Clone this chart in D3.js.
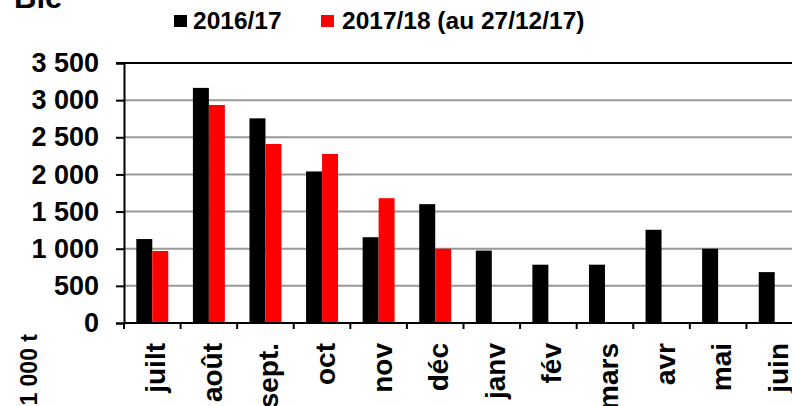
<!DOCTYPE html>
<html>
<head>
<meta charset="utf-8">
<script src="https://cdn.jsdelivr.net/npm/d3@7"></script>
<style>
  html, body { margin: 0; padding: 0; background: #fff; overflow: hidden; }
  svg { display: block; font-family: "Liberation Sans", Arial, sans-serif; font-weight: bold; }
</style>
</head>
<body>
<svg id="chart" width="792" height="406"></svg>
<script>
const months = ['juilt', 'août', 'sept.', 'oct', 'nov', 'déc', 'janv', 'fév', 'mars', 'avr', 'mai', 'juin'];
const series = ['2016/17', '2017/18 (au 27/12/17)'];
const values1617 = [1130, 3165, 2755, 2040, 1155, 1600, 975, 785, 785, 1255, 1000, 685];
const values1718 = [970, 2935, 2410, 2275, 1680, 1000, null, null, null, null, null, null];
const colors = ['#000000', '#ff0000'];
const yTicks = [0, 500, 1000, 1500, 2000, 2500, 3000, 3500];

const svg = d3.select('#chart');

const plotLeft = 124, plotRight = 803, plotTop = 63, plotBottom = 323;

const x = d3.scaleBand().domain(months).range([plotLeft, plotRight]).padding(0);
const xInner = d3.scaleBand().domain(series).range([0, x.bandwidth()]).paddingInner(0).paddingOuter(0.77);
const y = d3.scaleLinear().domain([0, 3500]).range([plotBottom, plotTop]);

const fmt = d3.formatLocale({ decimal: ',', thousands: ' ', grouping: [3], currency: ['', ''] }).format(',d');

// title (cut off at top)
svg.append('text').attr('x', 14).attr('y', 8)
  .style('font-size', '31px').text('Blé');

// legend
const legendPos = [{ sx: 174, tx: 193 }, { sx: 321, tx: 342 }];
series.forEach((s, i) => {
  svg.append('rect').attr('x', legendPos[i].sx).attr('y', 15)
    .attr('width', 13).attr('height', 12).attr('fill', colors[i]);
  svg.append('text').attr('x', legendPos[i].tx).attr('y', 29)
    .style('font-size', '24.5px').text(s);
});

// gridlines
svg.append('g').selectAll('line').data(yTicks.filter(d => d > 0 && d < 3500)).enter().append('line')
  .attr('x1', plotLeft).attr('x2', plotRight)
  .attr('y1', d => y(d)).attr('y2', d => y(d))
  .attr('stroke', '#999').attr('stroke-width', 2);

// bars
const rows = months.map((m, i) => ({ month: m, vals: [values1617[i], values1718[i]] }));
const groups = svg.append('g').selectAll('g').data(rows).enter().append('g')
  .attr('transform', d => 'translate(' + x(d.month) + ',0)');

groups.selectAll('rect')
  .data(d => d.vals.map((v, i) => ({ key: series[i], v: v, c: colors[i] })).filter(d => d.v != null))
  .enter().append('rect')
  .attr('x', d => xInner(d.key))
  .attr('width', xInner.bandwidth())
  .attr('y', d => y(d.v))
  .attr('height', d => y(0) - y(d.v))
  .attr('fill', d => d.c);

// top border
svg.append('line').attr('x1', plotLeft - 8).attr('x2', plotRight)
  .attr('y1', y(3500)).attr('y2', y(3500))
  .attr('stroke', '#000').attr('stroke-width', 2);

// y axis
const yAxis = svg.append('g').attr('transform', 'translate(' + plotLeft + ',0)')
  .call(d3.axisLeft(y).tickValues(yTicks).tickSize(8).tickPadding(17).tickFormat(fmt));
yAxis.select('.domain').attr('stroke-width', 2);
yAxis.selectAll('.tick line').attr('stroke-width', 2);
yAxis.selectAll('text').style('font-size', '27px').attr('fill', '#000');

// x axis: baseline and boundary ticks
svg.append('line').attr('x1', plotLeft).attr('x2', plotRight)
  .attr('y1', y(0)).attr('y2', y(0))
  .attr('stroke', '#000').attr('stroke-width', 2);
const bounds = months.map(m => x(m)).concat([x(months[months.length - 1]) + x.bandwidth()]);
svg.append('g').selectAll('line').data(bounds).enter().append('line')
  .attr('x1', d => d).attr('x2', d => d)
  .attr('y1', y(0)).attr('y2', y(0) + 6)
  .attr('stroke', '#000').attr('stroke-width', 2);

// month labels
svg.append('g').selectAll('text').data(months).enter().append('text')
  .attr('transform', d => 'translate(' + (x(d) + x.bandwidth() / 2 + 13) + ',343) rotate(-90)')
  .attr('text-anchor', 'end')
  .style('font-size', '28px')
  .text(d => d);

// y axis title
svg.append('text')
  .attr('transform', 'translate(37,334) rotate(-90)')
  .attr('text-anchor', 'end')
  .style('font-size', '23px')
  .text('1 000 t');
</script>
</body>
</html>
